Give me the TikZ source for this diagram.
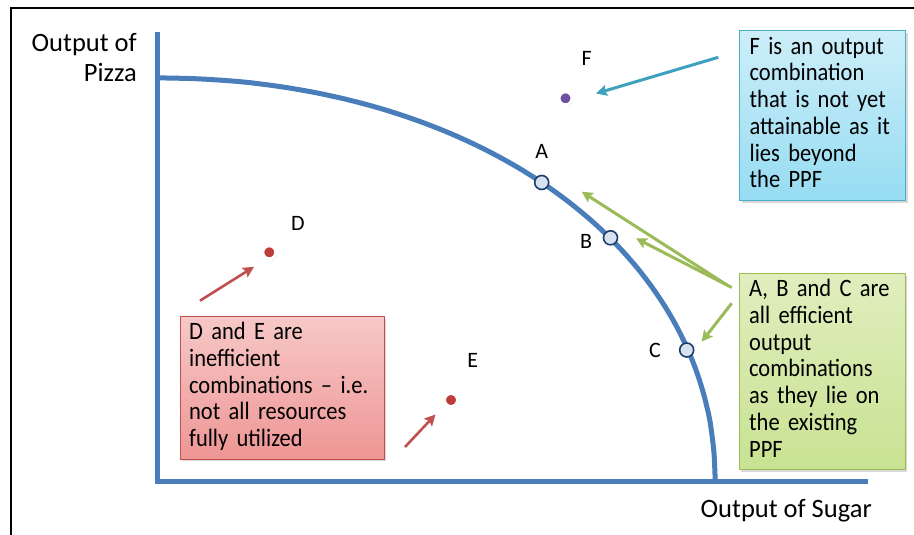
\documentclass[tikz,border=0pt]{standalone}
\usepackage{fontspec}
\setmainfont{Carlito}
\newfontfamily\boxfont{Carlito}[FakeStretch=0.9, Ligatures=TeX]
\usetikzlibrary{arrows.meta,shadows}
\definecolor{axisblue}{RGB}{74,126,187}
\definecolor{ptedge}{RGB}{31,61,107}
\definecolor{ptfill}{RGB}{214,226,240}
\definecolor{dotred}{RGB}{192,60,58}
\definecolor{dotpurple}{RGB}{112,80,160}
\definecolor{arrowred}{RGB}{192,80,77}
\definecolor{arrowgreen}{RGB}{155,187,89}
\definecolor{arrowteal}{RGB}{60,160,190}
\definecolor{blueedge}{RGB}{75,172,198}
\definecolor{bluetop}{RGB}{205,238,249}
\definecolor{bluebot}{RGB}{150,220,242}
\definecolor{greenedge}{RGB}{155,187,89}
\definecolor{greentop}{RGB}{224,238,190}
\definecolor{greenbot}{RGB}{200,226,146}
\definecolor{rededge}{RGB}{192,80,77}
\definecolor{redtop}{RGB}{246,200,199}
\definecolor{redbot}{RGB}{238,150,149}
\newcommand{\boxlines}[1]{\begin{tabular}{@{}l@{}}#1\end{tabular}}
\tikzset{
  axisline/.style={line width=5pt, draw=axisblue, line cap=butt},
  ptcircle/.style={circle, draw=ptedge, fill=ptfill, line width=1.6pt, minimum size=14pt, inner sep=0pt},
  dotnode/.style={circle, fill=#1, draw=white, line width=3pt, minimum size=13pt, inner sep=0pt,
    circular drop shadow={shadow xshift=0.8pt, shadow yshift=-0.8pt, opacity=0.3, fill=gray}},
  ptlabel/.style={font=\fontsize{22}{26}\selectfont, inner sep=0pt},
  axislabel/.style={font=\fontsize{26.5}{30}\selectfont, inner sep=0pt},
  notebox/.style={draw=#1edge, line width=1.3pt, top color=#1top, bottom color=#1bot,
    anchor=north west, align=left, inner xsep=10pt, inner ysep=0pt,
    font=\boxfont\fontsize{25}{26.7}\selectfont,
    drop shadow={shadow xshift=2pt, shadow yshift=-2pt, opacity=0.3, fill=gray}},
  tip/.style={-{Stealth[length=11pt,width=11pt,inset=2pt]}},
  redarrow/.style={tip, draw=arrowred, fill=arrowred, line width=2.6pt},
  greenarrow/.style={tip, draw=arrowgreen, fill=arrowgreen, line width=3pt},
  tealarrow/.style={tip, draw=arrowteal, fill=arrowteal, line width=3pt}
}
\begin{document}
\begin{tikzpicture}[x=1pt,y=-1pt]
\useasboundingbox (0,0) rectangle (914,535);
% frame
\coordinate (frbl) at (11,536);
\coordinate (frtl) at (11,8);
\coordinate (frtr) at (915,8);
\draw[line width=2pt, line cap=butt] (frbl) -- (frtl) -- (frtr);

% axes
\coordinate (ytop) at (157,32);
\coordinate (orig) at (157,481);
\coordinate (xend) at (868,481);
\draw[axisline, line join=miter] (ytop) -- (orig) -- (xend);

% PPF curve
\draw[axisline] plot[domain=0.01:89.99, samples=120, variable=\t]
  ({157+558*pow(cos(\t),0.9662)}, {481-403*pow(sin(\t),0.9662)});

% axis labels
\node[axislabel, align=right, anchor=base east] (ylab) at (137,81.7) {Output of\\Pizza};
\node[axislabel, anchor=base east] (xlab) at (872,517) {Output of Sugar};

% boxes
\node[notebox=blue, text width=146pt, minimum height=170pt] (fbox) at (739,30)
  {\boxlines{F is an output\\combination\\that is not yet\\attainable as it\\lies beyond\\the PPF}};
\node[notebox=green, text width=146pt, minimum height=196pt] (abcbox) at (738.5,273)
  {\boxlines{A, B and C are\\all efficient\\output\\combinations\\as they lie on\\the existing\\PPF}};
\node[notebox=red, inner xsep=9pt, text width=186pt, minimum height=142.5pt] (debox) at (179.5,316)
  {\boxlines{D and E are\\inefficient\\combinations – i.e.\\not all resources\\fully utilized}};

% points on the PPF
\node[ptcircle] (A) at (541.7,182.5) {};
\node[ptcircle] (B) at (610.5,237.8) {};
\node[ptcircle] (C) at (686.7,350) {};
\node[ptlabel] (Alab) at (541.7,151.7) {A};
\node[ptlabel] (Blab) at (586,241.7) {B};
\node[ptlabel] (Clab) at (655,350) {C};

% other points
\node[dotnode=dotred] (D) at (269.3,252.3) {};
\node[dotnode=dotred] (E) at (451,400) {};
\node[dotnode=dotpurple] (F) at (565.5,98.3) {};
\node[ptlabel] (Dlab) at (298,223) {D};
\node[ptlabel] (Elab) at (472.7,360) {E};
\node[ptlabel] (Flab) at (586.7,58.3) {F};

% arrows
\coordinate (dfrom) at (200,300.7);
\coordinate (dto) at (254,266.8);
\coordinate (efrom) at (405,447);
\coordinate (eto) at (435.5,414.5);
\draw[redarrow] (dfrom) -- (dto);
\draw[redarrow] (efrom) -- (eto);

\coordinate (ffrom) at (718.3,57.3);
\coordinate (fto) at (596,93.5);
\draw[tealarrow] (ffrom) -- (fto);

\coordinate (g1from) at (727,285);
\coordinate (g1to) at (581.7,191.7);
\coordinate (g2from) at (731.7,287.5);
\coordinate (g2to) at (636,238.3);
\coordinate (g3from) at (731.7,303.3);
\coordinate (g3to) at (701.7,341.7);
\draw[greenarrow] (g1from) -- (g1to);
\draw[greenarrow] (g2from) -- (g2to);
\draw[greenarrow] (g3from) -- (g3to);
\end{tikzpicture}
\end{document}
